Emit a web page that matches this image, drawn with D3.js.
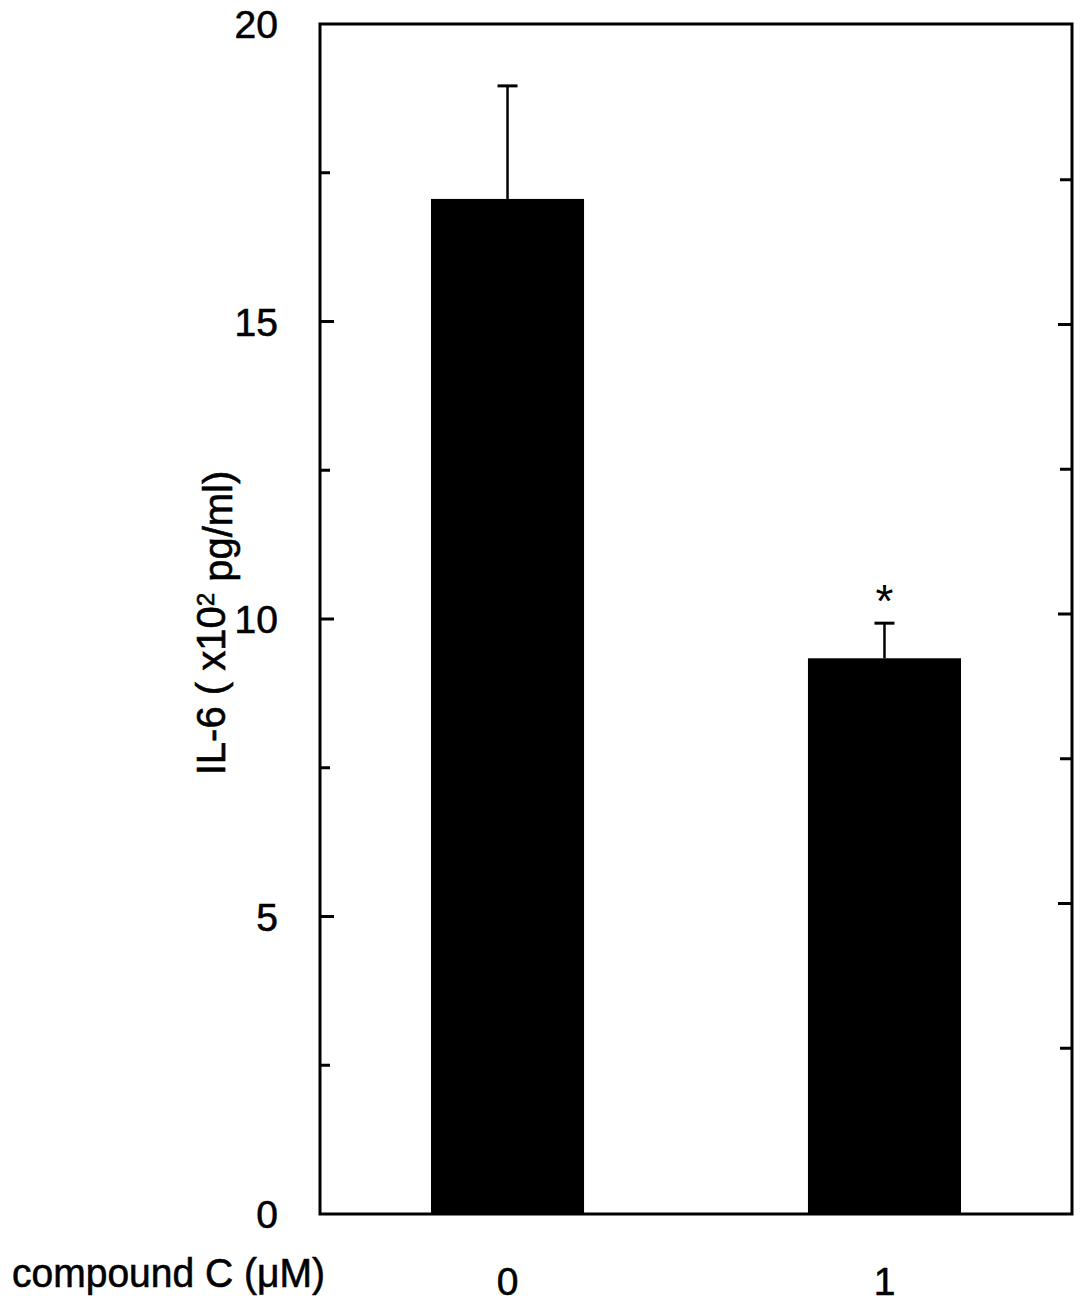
<html>
<script src="https://d3js.org/d3.v7.min.js"></script>
<style>
    body { margin: 0; background: white; }
    text { font-family: "Liberation Sans", Arial, sans-serif; fill: black; stroke: black; stroke-width: 0.6px; }
</style>
<body>
<svg id="chart" width=1087 height=1307></svg>
<script>
// data
var categories = ["0", "1"];
var means = [17.06, 9.34];
var errors = [1.9, 0.59];
var yTicks = [0, 5, 10, 15, 20];
var minorTicks = [2.5, 7.5, 12.5, 17.5];
var marks = ["", "*"];

var svg = d3.select("#chart");

var y = d3.scaleLinear().domain([0, 20]).range([1214, 24]);
// right frame ticks sit on a slightly different spacing in the original
var yRight = d3.scaleLinear().domain([0, 20]).range([1193, 35]);
var x = d3.scaleBand().domain(categories).range([431, 961]).paddingInner(0.594);

// frame
svg.append("rect")
    .attr("x", 320).attr("y", y(20))
    .attr("width", 1072 - 320).attr("height", y(0) - y(20))
    .attr("fill", "none").attr("stroke", "black").attr("stroke-width", 3);

// left ticks (inward)
svg.selectAll(".ltick")
    .data(yTicks.filter(function(d) { return d > 0 && d < 20; }).concat(minorTicks))
    .enter().append("line")
    .attr("x1", 320).attr("x2", function(d) { return d % 5 === 0 ? 334 : 330; })
    .attr("y1", function(d) { return y(d); }).attr("y2", function(d) { return y(d); })
    .attr("stroke", "black").attr("stroke-width", 3);

// right ticks (inward)
svg.selectAll(".rtick")
    .data([2.5, 5, 7.5, 10, 12.5, 15, 17.5])
    .enter().append("line")
    .attr("x1", 1072).attr("x2", function(d) { return d % 5 === 0 ? 1058 : 1060; })
    .attr("y1", function(d) { return yRight(d); }).attr("y2", function(d) { return yRight(d); })
    .attr("stroke", "black").attr("stroke-width", 3);

// y tick labels
svg.selectAll(".ylab")
    .data(yTicks)
    .enter().append("text")
    .attr("x", 278)
    .attr("y", function(d) { return y(d); })
    .attr("dy", "0.36em")
    .attr("text-anchor", "end")
    .style("font-size", "39px")
    .text(function(d) { return d; });

// y axis title
var yt = svg.append("text")
    .attr("transform", "translate(225,623) rotate(-90)")
    .attr("text-anchor", "middle")
    .style("font-size", "40px");
yt.append("tspan").text("IL-6 ( x10");
yt.append("tspan").attr("dy", "-0.45em").style("font-size", "24px").text("2");
yt.append("tspan").attr("dy", "0.45em").text(" pg/ml)");

// bars
svg.selectAll(".bar")
    .data(means)
    .enter().append("rect")
    .attr("x", function(d, i) { return x(categories[i]); })
    .attr("y", function(d) { return y(d); })
    .attr("width", x.bandwidth())
    .attr("height", function(d) { return y(0) - y(d); })
    .attr("fill", "black");

// error bars (upper only)
var eb = svg.selectAll(".err")
    .data(means)
    .enter().append("g");
eb.append("line")
    .attr("x1", function(d, i) { return x(categories[i]) + x.bandwidth() / 2; })
    .attr("x2", function(d, i) { return x(categories[i]) + x.bandwidth() / 2; })
    .attr("y1", function(d) { return y(d); })
    .attr("y2", function(d, i) { return y(d + errors[i]); })
    .attr("stroke", "black").attr("stroke-width", 2.5);
eb.append("line")
    .attr("x1", function(d, i) { return x(categories[i]) + x.bandwidth() / 2 - 10; })
    .attr("x2", function(d, i) { return x(categories[i]) + x.bandwidth() / 2 + 10; })
    .attr("y1", function(d, i) { return y(d + errors[i]); })
    .attr("y2", function(d, i) { return y(d + errors[i]); })
    .attr("stroke", "black").attr("stroke-width", 3);

// significance mark
svg.selectAll(".sig")
    .data(means)
    .enter().append("text")
    .attr("x", function(d, i) { return x(categories[i]) + x.bandwidth() / 2; })
    .attr("y", function(d, i) { return y(d + errors[i]) - 6; })
    .attr("text-anchor", "middle")
    .style("font-size", "46px")
    .style("stroke-width", "0px")
    .text(function(d, i) { return marks[i]; });

// x labels
svg.selectAll(".xlab")
    .data(categories)
    .enter().append("text")
    .attr("x", function(d) { return x(d) + x.bandwidth() / 2; })
    .attr("y", 1295)
    .attr("text-anchor", "middle")
    .style("font-size", "39px")
    .text(function(d) { return d; });

svg.append("text")
    .attr("x", 12).attr("y", 1287)
    .attr("textLength", 313).attr("lengthAdjust", "spacingAndGlyphs")
    .style("font-size", "41px")
    .text("compound C (μM)");
</script>
</body>
</html>
